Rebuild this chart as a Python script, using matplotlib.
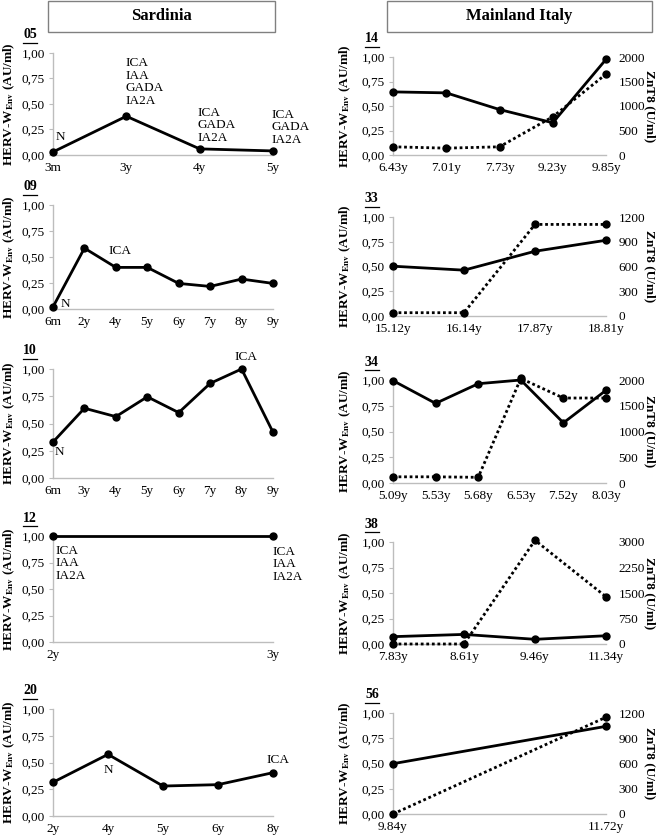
import matplotlib
matplotlib.use("Agg")
import matplotlib.pyplot as plt
from matplotlib.patches import Rectangle
from matplotlib.lines import Line2D

plt.rcParams['font.family'] = ['Liberation Serif', 'DejaVu Serif']
plt.rcParams['mathtext.fontset'] = 'stix'

W, H = 658, 836

# ---- Sardinia (HERV-W Env only) ----
p05_x = ['3m', '3y', '4y', '5y']
p05_y = [0.03, 0.38, 0.06, 0.04]
p09_x = ['6m', '2y', '4y', '5y', '6y', '7y', '8y', '9y']
p09_y = [0.02, 0.585, 0.40, 0.40, 0.246, 0.217, 0.288, 0.246]
p10_x = ['6m', '3y', '4y', '5y', '6y', '7y', '8y', '9y']
p10_y = [0.33, 0.64, 0.563, 0.745, 0.60, 0.868, 1.00, 0.42]
p12_x = ['2y', '3y']
p12_y = [1.00, 1.00]
p20_x = ['2y', '4y', '5y', '6y', '8y']
p20_y = [0.315, 0.576, 0.28, 0.293, 0.405]

# ---- Mainland Italy (HERV-W Env solid, ZnT8 dotted) ----
p14_x = ['6.43y', '7.01y', '7.73y', '9.23y', '9.85y']
p14_herv = [0.644, 0.634, 0.464, 0.329, 0.976]
p14_znt8 = [167, 140, 167, 780, 1650]
p33_x = ['15.12y', '16.14y', '17.87y', '18.81y']
p33_herv = [0.503, 0.463, 0.654, 0.765]
p33_znt8 = [40, 40, 1110, 1110]
p34_x = ['5.09y', '5.53y', '5.68y', '6.53y', '7.52y', '8.03y']
p34_herv = [0.994, 0.773, 0.964, 1.00, 0.584, 0.90]
p34_znt8 = [120, 120, 110, 2030, 1650, 1650]
p38_x = ['7.83y', '8.61y', '9.46y', '11.34y']
p38_herv = [0.072, 0.094, 0.046, 0.081]
p38_znt8 = [0, 0, 3050, 1390]
p56_x = ['9.84y', '11.72y']
p56_herv = [0.498, 0.868]
p56_znt8 = [0, 1150]

herv_ticks = [0, 0.25, 0.5, 0.75, 1.0]
herv_labels = ['0,00', '0,25', '0,50', '0,75', '1,00']
GRAY = '#bdbdbd'
FS = 9.5

fig = plt.figure(figsize=(W / 100, H / 100), dpi=100)


def box(x0, y0, x1, y1):
    return [x0 / W, 1 - y1 / H, (x1 - x0) / W, (y1 - y0) / H]


def panel_number(txt, x, y):
    t = fig.text(x / W, 1 - y / H, txt, fontsize=10, fontweight='bold',
                 ha='left', va='center')
    fig.canvas.draw()
    bb = t.get_window_extent()
    yy = bb.y0 - 1
    fig.add_artist(Line2D([bb.x0 / W, bb.x1 / W], [yy / H, yy / H],
                          color='black', lw=0.9))


def base_axes(rect, xlabels, ylabel_x):
    ax = fig.add_axes(rect)
    ax.set_xlim(0, len(xlabels) - 1)
    ax.set_ylim(0, 1)
    for s in ['top', 'right']:
        ax.spines[s].set_visible(False)
    for s in ['left', 'bottom']:
        ax.spines[s].set_color(GRAY)
        ax.spines[s].set_linewidth(1)
    ax.set_xticks(range(len(xlabels)))
    ax.set_xticklabels(xlabels, fontsize=FS)
    ax.tick_params(axis='x', length=0, pad=5)
    ax.set_yticks(herv_ticks)
    ax.set_yticklabels(herv_labels, fontsize=FS)
    ax.tick_params(axis='y', length=3, color=GRAY, pad=3)
    ymid = rect[1] + rect[3] / 2
    fig.text(ylabel_x / W, ymid, r'HERV-W$_{\mathbf{Env}}$ (AU/ml)',
             rotation=90, ha='center', va='center', fontsize=9.5,
             fontweight='bold')
    return ax


def left_panel(num, top, bottom, xlabels, yvals, notes):
    ax = base_axes(box(53, top, 273, bottom), xlabels, 9)
    ax.plot(range(len(yvals)), yvals, color='black', lw=2, marker='o',
            ms=5, clip_on=False, zorder=3)
    for i, txt, dx, dy, ha, va in notes:
        ax.annotate(txt, xy=(i, yvals[i]), xytext=(dx, dy),
                    textcoords='offset pixels', ha=ha, va=va,
                    fontsize=FS, linespacing=1.05)
    panel_number(num, 23, top - 18)
    return ax


def right_panel(num, top, bottom, xlabels, herv, znt8, zmax, zstep):
    ax = base_axes(box(393, top, 606, bottom), xlabels, 345)
    xs = range(len(herv))
    ax.plot(xs, herv, color='black', lw=2, marker='o', ms=5,
            clip_on=False, zorder=3)
    ax2 = ax.twinx()
    ax2.set_ylim(0, zmax)
    for s in ax2.spines.values():
        s.set_visible(False)
    zt = list(range(0, zmax + 1, zstep))
    ax2.set_yticks(zt)
    ax2.set_yticklabels([str(v) for v in zt], fontsize=FS)
    ax2.tick_params(axis='y', length=0, pad=9)
    ax2.plot(xs, znt8, color='black', lw=2, ls=(0, (1, 1)), marker='o',
             ms=5, clip_on=False, zorder=3)
    rect = box(393, top, 606, bottom)
    fig.text(650 / W, rect[1] + rect[3] / 2, 'ZnT8 (U/ml)', rotation=270,
             ha='center', va='center', fontsize=9.5, fontweight='bold')
    panel_number(num, 365, top - 18)
    return ax


# title boxes
for x0, x1, label in [(48, 275, 'Sardinia'), (387, 652, 'Mainland Italy')]:
    r = box(x0, 1, x1, 32)
    fig.add_artist(Rectangle((r[0], r[1]), r[2], r[3], transform=fig.transFigure,
                             facecolor='white', edgecolor='#808080', lw=1))
    fig.text(r[0] + r[2] / 2, r[1] + r[3] / 2, label, ha='center', va='center',
             fontsize=12, fontweight='bold')

left_panel('05', 53, 155, p05_x, p05_y, [
    (0, 'N', 3, 15, 'left', 'center'),
    (1, 'ICA\nIAA\nGADA\nIA2A', -1, 59, 'left', 'top'),
    (2, 'ICA\nGADA\nIA2A', -2, 42, 'left', 'top'),
    (3, 'ICA\nGADA\nIA2A', -2, 42, 'left', 'top'),
])
left_panel('09', 205, 309, p09_x, p09_y, [
    (0, 'N', 8, 3, 'left', 'center'),
    (2, 'ICA', 4, 16, 'center', 'center'),
])
left_panel('10', 369, 478, p10_x, p10_y, [
    (0, 'N', 2, -10, 'left', 'center'),
    (6, 'ICA', 4, 12, 'center', 'center'),
])
left_panel('12', 536, 642, p12_x, p12_y, [
    (0, 'ICA\nIAA\nIA2A', 2, -9, 'left', 'top'),
    (1, 'ICA\nIAA\nIA2A', -1, -10, 'left', 'top'),
])
left_panel('20', 709, 816, p20_x, p20_y, [
    (1, 'N', 0, -16, 'center', 'center'),
    (4, 'ICA', 5, 13, 'center', 'center'),
])

right_panel('14', 57, 155, p14_x, p14_herv, p14_znt8, 2000, 500)
right_panel('33', 217, 316, p33_x, p33_herv, p33_znt8, 1200, 300)
right_panel('34', 380, 483, p34_x, p34_herv, p34_znt8, 2000, 500)
right_panel('38', 542, 644, p38_x, p38_herv, p38_znt8, 3000, 750)
right_panel('56', 713, 814, p56_x, p56_herv, p56_znt8, 1200, 300)

fig.savefig('out.png', dpi=100)
